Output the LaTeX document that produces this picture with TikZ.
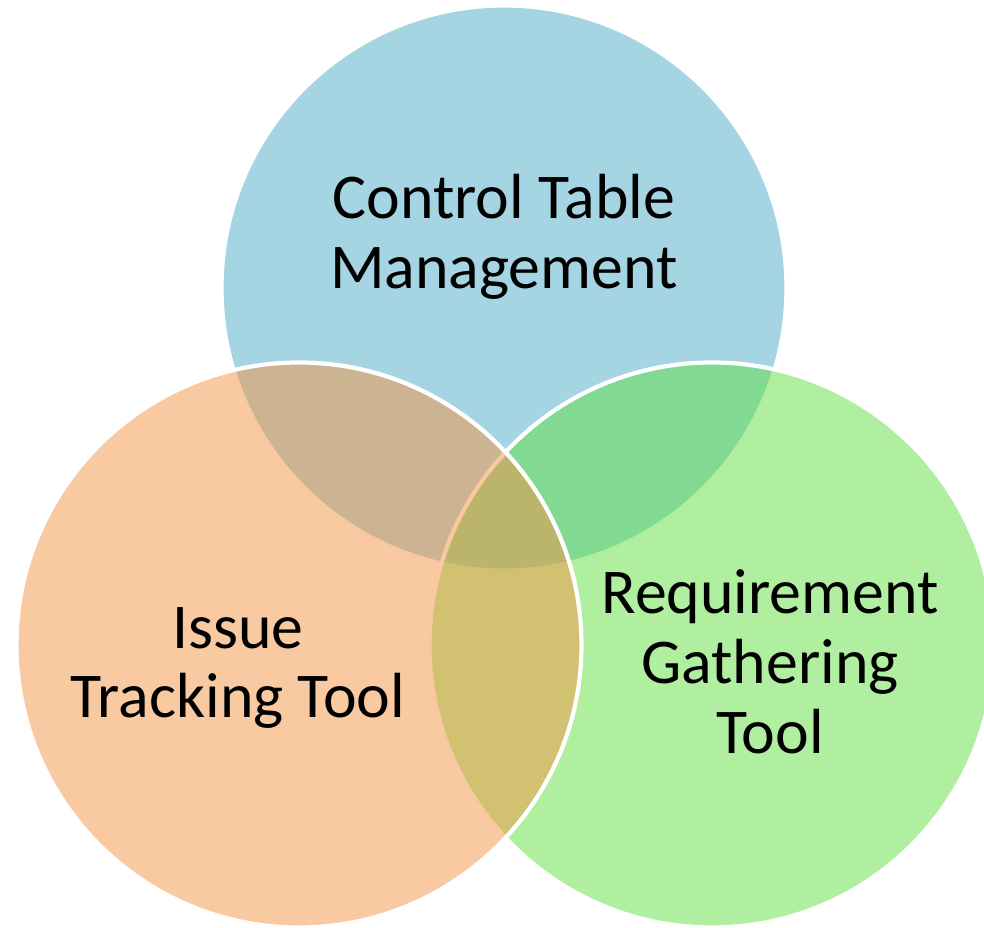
\documentclass[tikz,border=0pt]{standalone}
\usepackage{fontspec}
\setmainfont{Carlito}
\definecolor{cerchioblu}{HTML}{4BABC5}
\definecolor{cerchioverde}{HTML}{61DF41}
\definecolor{cerchioarancio}{HTML}{F39345}
\begin{document}
\begin{tikzpicture}[cerchio/.style={draw=white, line width=2.4pt, fill opacity=0.5},
	etichetta/.style={align=center, inner sep=0pt, text=black, font=\fontsize{36.3}{39.7}\selectfont}]
	% Area del disegno
	\clip (0,0) rectangle (19.68,18.56);
	
	% Cerchio blu
	\filldraw[cerchio, fill=cerchioblu] (10.08,12.8) circle (5.65);
	
	% Cerchio verde
	\filldraw[cerchio, fill=cerchioverde] (14.24,5.66) circle (5.65);
	
	% Cerchio arancio
	\filldraw[cerchio, fill=cerchioarancio] (5.98,5.66) circle (5.65);
	
	% Etichette
	\node[etichetta] (tabella) at (10.08,13.82) {Control Table\\Management};
	\node[etichetta] (problemi) at (4.76,5.2) {Issue\\Tracking Tool};
	\node[etichetta] (requisiti) at (15.4,5.32) {Requirement\\Gathering\\Tool};
\end{tikzpicture}
\end{document}
